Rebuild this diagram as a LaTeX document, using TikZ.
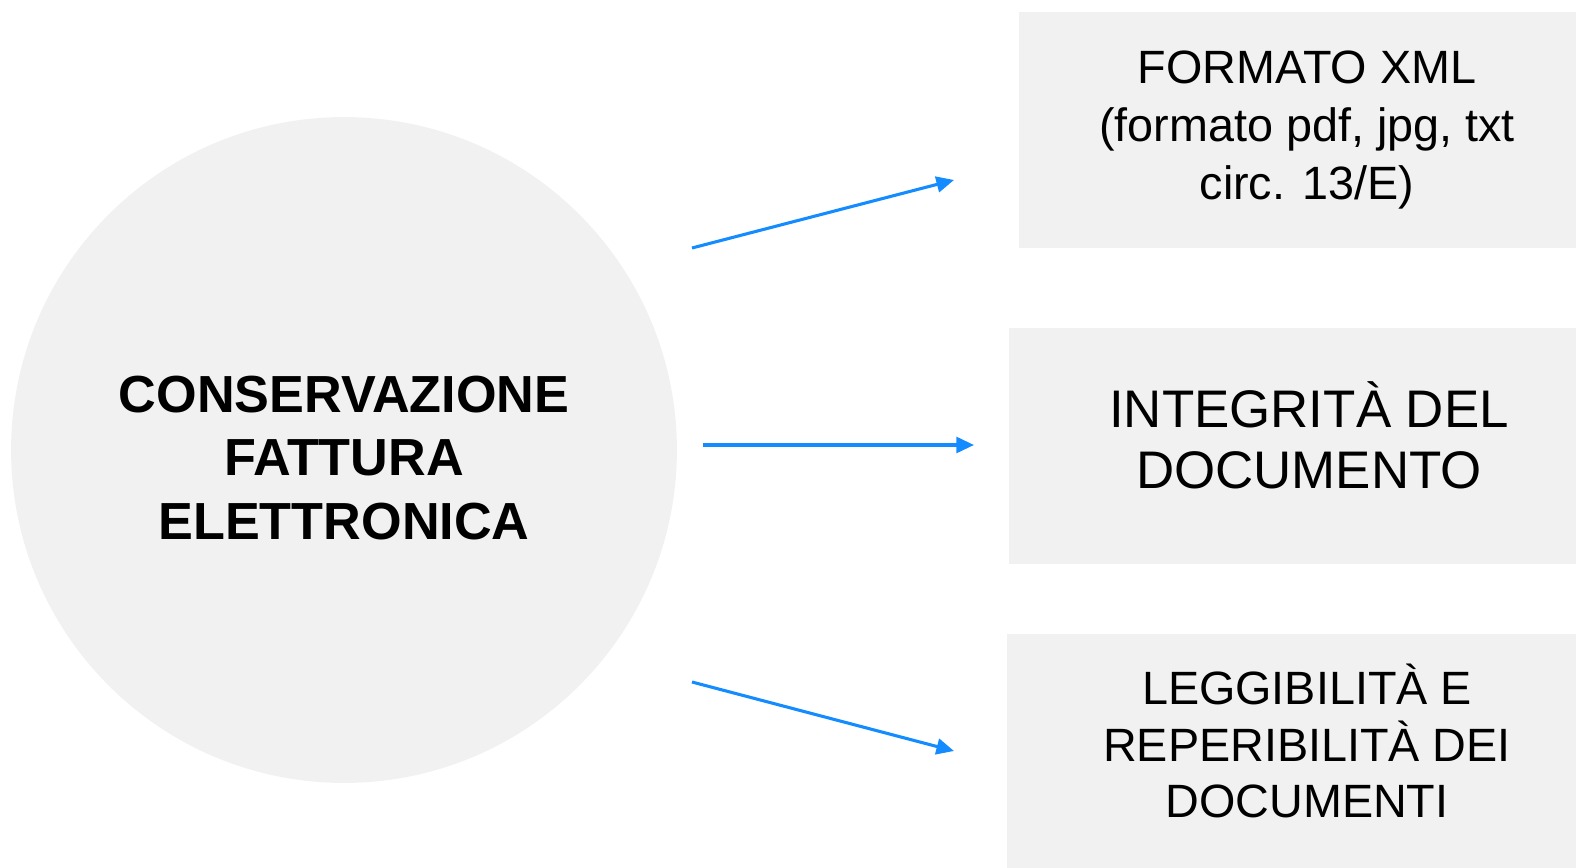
\documentclass[tikz,border=0pt]{standalone}
\usepackage{fontspec}
\setmainfont{Liberation Sans}
\usetikzlibrary{positioning,arrows.meta}

\definecolor{panelgray}{RGB}{241,241,241}
\definecolor{arrowblue}{RGB}{20,140,255}

\tikzset{
  topic/.style={circle, fill=panelgray, minimum size=13.32cm, inner sep=0pt},
  topictext/.style={align=center, font=\fontsize{29.7}{36.3}\selectfont\bfseries},
  panel/.style={rectangle, fill=panelgray, minimum width=12cm, minimum height=4.74cm},
  paneltext/.style={align=center, font=\fontsize{26.6}{33.2}\selectfont},
  link/.style={draw=arrowblue, line width=1.75pt, -{Triangle[length=10pt,width=9pt]}},
}

\begin{document}
\begin{tikzpicture}[x=0.02cm,y=-0.02cm]
\useasboundingbox (0,0) rectangle (1576,868);

\node[topic, label={[topictext, yshift=-0.16cm]center:{CONSERVAZIONE\\FATTURA\\ELETTRONICA}}]
  (cons) at (344,450) {};

\node[panel, minimum width=11.52cm, minimum height=4.72cm,
  label={[paneltext]center:{FORMATO XML\\(formato pdf, jpg, txt\\circ. 13/E)}}]
  (xml) at (1307,130) {};
\node[panel,
  label={[paneltext, font=\fontsize{30.1}{34.9}\selectfont, yshift=0.22cm]center:{INTEGRITÀ DEL\\DOCUMENTO}}]
  (integ) at (1309,446) {};
\node[panel,
  label={[paneltext, font=\fontsize{26.6}{32.4}\selectfont, yshift=0.22cm]center:{LEGGIBILITÀ E\\REPERIBILITÀ DEI\\DOCUMENTI}}]
  (legg) at (1307,752) {};

% arrow ends
\coordinate (s1) at (692,248);
\coordinate (e1) at (954,180);
\coordinate (s2) at (703,445);
\coordinate (e2) at (974,445);
\coordinate (s3) at (692,682);
\coordinate (e3) at (954,751);

\draw[link] (s1) -- (e1);
\draw[link] (s2) -- (e2);
\draw[link] (s3) -- (e3);
\end{tikzpicture}
\end{document}
